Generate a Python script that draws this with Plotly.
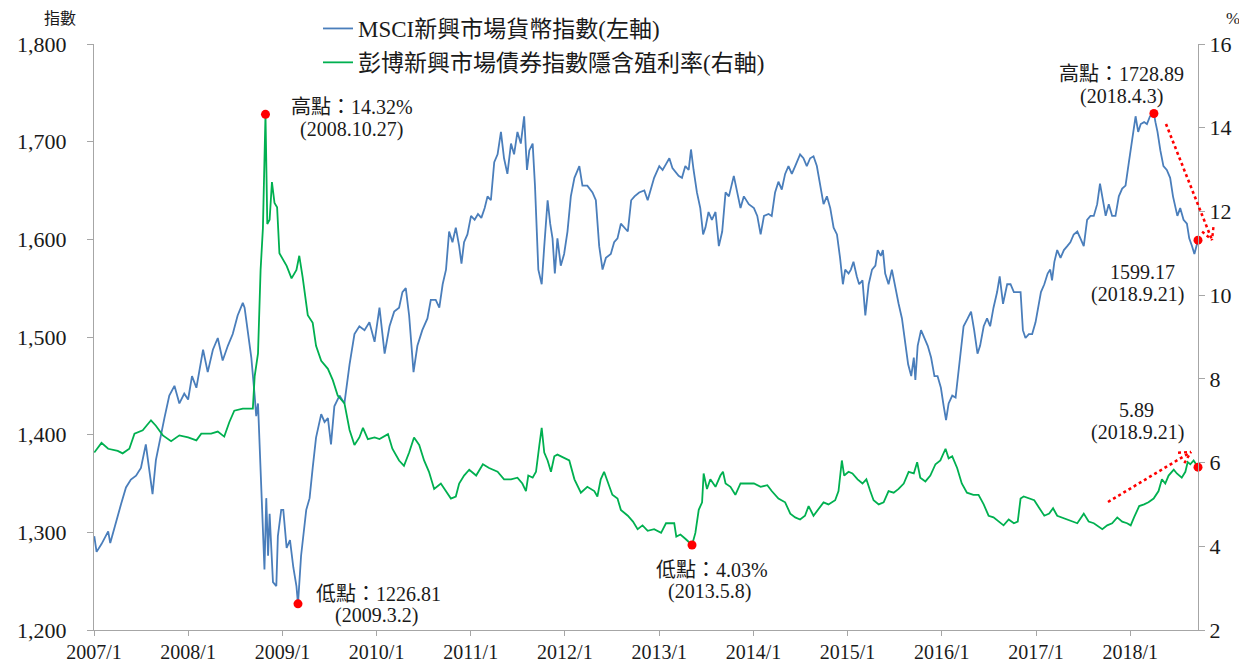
import math
import plotly.graph_objects as go

# ---------------- data ----------------
msci_dates = [
    "2007-01-02", "2007-01-11", "2007-01-30", "2007-02-25", "2007-03-05", "2007-03-27", "2007-04-16",
    "2007-05-05", "2007-05-24", "2007-06-13", "2007-07-02", "2007-07-21", "2007-08-16", "2007-08-29",
    "2007-09-18", "2007-10-01", "2007-10-20", "2007-11-09", "2007-11-28", "2007-12-17",
    "2008-01-01", "2008-01-16", "2008-02-02", "2008-02-28", "2008-03-17", "2008-04-06", "2008-04-25",
    "2008-05-14", "2008-06-03", "2008-06-22", "2008-07-11", "2008-07-31", "2008-08-07", "2008-08-20",
    "2008-09-02", "2008-09-15", "2008-09-21", "2008-09-28", "2008-10-04", "2008-10-10", "2008-10-17",
    "2008-10-23", "2008-10-30", "2008-11-06", "2008-11-12", "2008-11-25", "2008-12-08", "2008-12-14",
    "2008-12-27",
    "2009-01-04", "2009-01-17", "2009-01-30", "2009-02-12", "2009-02-24", "2009-03-02", "2009-03-14",
    "2009-04-03", "2009-04-16", "2009-04-28", "2009-05-11", "2009-05-31", "2009-06-13", "2009-06-26",
    "2009-07-08", "2009-07-21", "2009-08-10", "2009-08-29", "2009-09-18", "2009-10-07", "2009-10-26",
    "2009-11-15", "2009-12-04", "2009-12-24",
    "2010-01-12", "2010-02-01", "2010-02-20", "2010-03-10", "2010-03-29", "2010-04-11", "2010-04-24",
    "2010-05-07", "2010-05-24", "2010-06-08", "2010-06-27", "2010-07-17", "2010-07-30", "2010-08-18",
    "2010-09-01", "2010-09-14", "2010-09-27", "2010-10-09", "2010-10-22", "2010-11-04", "2010-11-17",
    "2010-11-26", "2010-12-06", "2010-12-19",
    "2011-01-02", "2011-01-16", "2011-01-29", "2011-02-11", "2011-02-24", "2011-03-07", "2011-03-20",
    "2011-04-02", "2011-04-15", "2011-04-28", "2011-05-10", "2011-05-23", "2011-06-06", "2011-06-18",
    "2011-07-01", "2011-07-14", "2011-07-27", "2011-08-07", "2011-08-16", "2011-08-29", "2011-09-07",
    "2011-09-20", "2011-10-03", "2011-10-13", "2011-10-26", "2011-11-05", "2011-11-14", "2011-11-23",
    "2011-12-03", "2011-12-16", "2011-12-29",
    "2012-01-11", "2012-01-24", "2012-02-07", "2012-02-26", "2012-03-09", "2012-03-28", "2012-04-17",
    "2012-04-30", "2012-05-13", "2012-05-26", "2012-06-08", "2012-06-27", "2012-07-10", "2012-07-23",
    "2012-08-05", "2012-08-18", "2012-09-01", "2012-09-14", "2012-09-27", "2012-10-15", "2012-11-04",
    "2012-11-17", "2012-11-30", "2012-12-12",
    "2013-01-01", "2013-01-14", "2013-01-27", "2013-02-09", "2013-02-21", "2013-03-04", "2013-03-17",
    "2013-03-30", "2013-04-12", "2013-04-25", "2013-05-04", "2013-05-14", "2013-05-27", "2013-06-09",
    "2013-06-20", "2013-06-29", "2013-07-11", "2013-07-24", "2013-08-07", "2013-08-20", "2013-09-02",
    "2013-09-15", "2013-09-28", "2013-10-17", "2013-10-30", "2013-11-12", "2013-11-25", "2013-12-14",
    "2014-01-03", "2014-01-16", "2014-01-29", "2014-02-11", "2014-03-01", "2014-03-13", "2014-03-26",
    "2014-04-08", "2014-04-21", "2014-05-04", "2014-05-17", "2014-05-30", "2014-06-12", "2014-07-01",
    "2014-07-14", "2014-07-27", "2014-08-09", "2014-08-22", "2014-09-04", "2014-09-17", "2014-09-30",
    "2014-10-13", "2014-10-26", "2014-11-08", "2014-11-21", "2014-12-03", "2014-12-14", "2014-12-23",
    "2015-01-05", "2015-01-14", "2015-01-24", "2015-02-06", "2015-02-15", "2015-02-28", "2015-03-11",
    "2015-03-24", "2015-04-06", "2015-04-19", "2015-04-28", "2015-05-10", "2015-05-18", "2015-05-27",
    "2015-06-09", "2015-06-22", "2015-07-05", "2015-07-18", "2015-07-31", "2015-08-13", "2015-08-24",
    "2015-09-05", "2015-09-15", "2015-09-21", "2015-09-30", "2015-10-13", "2015-10-26", "2015-11-08",
    "2015-11-21", "2015-12-04", "2015-12-16", "2015-12-29",
    "2016-01-09", "2016-01-18", "2016-01-28", "2016-02-11", "2016-02-24", "2016-03-04", "2016-03-13",
    "2016-03-26", "2016-04-11", "2016-04-24", "2016-05-06", "2016-05-19", "2016-05-29", "2016-06-12",
    "2016-06-25", "2016-07-07", "2016-07-20", "2016-08-03", "2016-08-13", "2016-08-26", "2016-09-11",
    "2016-09-24", "2016-10-07", "2016-10-19", "2016-11-02", "2016-11-11", "2016-11-21", "2016-12-04",
    "2016-12-17", "2016-12-30",
    "2017-01-20", "2017-02-02", "2017-02-15", "2017-02-25", "2017-03-04", "2017-03-13", "2017-03-24",
    "2017-04-06", "2017-04-19", "2017-05-02", "2017-05-14", "2017-05-27", "2017-06-10", "2017-06-22",
    "2017-07-05", "2017-07-18", "2017-07-31", "2017-08-13", "2017-08-26", "2017-09-06", "2017-09-15",
    "2017-09-28", "2017-10-10", "2017-10-23", "2017-11-05", "2017-11-18", "2017-12-01", "2017-12-14",
    "2017-12-27",
    "2018-01-09", "2018-01-22", "2018-02-01", "2018-02-11", "2018-02-24", "2018-03-07", "2018-03-19",
    "2018-04-03", "2018-04-09", "2018-04-17", "2018-04-28", "2018-05-10", "2018-05-23", "2018-06-05",
    "2018-06-16", "2018-06-25", "2018-07-03", "2018-07-14", "2018-07-27", "2018-08-09", "2018-08-18",
    "2018-08-29", "2018-09-07", "2018-09-21",
]
msci_values = [
    1296, 1280, 1288, 1301, 1289, 1311, 1329,
    1346, 1354, 1358, 1366, 1390, 1339, 1374,
    1401, 1417, 1440, 1450, 1432, 1442,
    1436, 1460, 1448, 1487, 1464, 1487, 1499,
    1476, 1491, 1503, 1522, 1535, 1530, 1507,
    1479, 1440, 1419, 1432, 1393, 1358, 1315,
    1262, 1335, 1276, 1319, 1249, 1245, 1296,
    1323,
    1323, 1284, 1292, 1264, 1245, 1226.81, 1276,
    1323, 1335, 1366, 1397, 1421, 1413, 1417,
    1390, 1429, 1440, 1432, 1472, 1503, 1511,
    1507, 1515, 1495,
    1530, 1483, 1511, 1526, 1530, 1546, 1550,
    1522, 1464, 1491, 1507, 1519, 1538, 1538,
    1530, 1554, 1569, 1608, 1597, 1612, 1593,
    1575, 1597, 1605,
    1624, 1620, 1626, 1622, 1632, 1644, 1640,
    1679, 1687, 1710, 1683, 1667, 1698, 1687,
    1710, 1698, 1726, 1671, 1691, 1698, 1655,
    1569, 1554, 1593, 1640, 1616, 1601, 1565,
    1601, 1573, 1585,
    1608, 1644, 1663, 1675, 1655, 1655, 1648,
    1640, 1593, 1569, 1581, 1585, 1597, 1601,
    1616, 1612, 1608, 1640, 1644, 1648, 1650,
    1640, 1651, 1663,
    1675, 1671, 1677, 1683, 1673, 1669, 1665,
    1663, 1675, 1671, 1692, 1671, 1648, 1632,
    1605, 1612, 1628, 1620, 1628, 1593, 1608,
    1648, 1644, 1665, 1648, 1632, 1644, 1636,
    1632, 1624, 1605, 1624, 1626, 1624, 1648,
    1659, 1651, 1667, 1675, 1667, 1675, 1687,
    1683, 1675, 1683, 1685, 1675, 1655, 1636,
    1644, 1632, 1612, 1605, 1581, 1554, 1569,
    1565, 1569, 1577, 1562, 1554, 1558, 1522,
    1554, 1569, 1573, 1589, 1583, 1589, 1565,
    1554, 1569, 1550, 1534, 1519, 1491, 1472,
    1460, 1479, 1456, 1491, 1507, 1499, 1491,
    1479, 1460, 1460, 1448,
    1429, 1415, 1432, 1440, 1438, 1460, 1483,
    1511, 1519, 1526, 1507, 1483, 1491, 1511,
    1519, 1511, 1530, 1546, 1562, 1534, 1554,
    1554, 1546, 1546, 1546, 1507, 1499, 1503,
    1503, 1515,
    1546, 1554, 1565, 1569, 1558, 1577, 1589,
    1581, 1589, 1593, 1597, 1605, 1608, 1601,
    1593, 1620, 1624, 1624, 1636, 1657, 1644,
    1624, 1636, 1624, 1624, 1644, 1652, 1655,
    1679,
    1702, 1726, 1710, 1718, 1720, 1718, 1726,
    1728.89, 1720, 1710, 1691, 1675, 1671, 1663,
    1644, 1632, 1624, 1632, 1620, 1616, 1601,
    1593, 1585, 1599.17,
]

yield_dates = [
    "2007-01-02", "2007-01-30", "2007-02-25", "2007-04-03", "2007-04-22", "2007-05-18", "2007-06-07",
    "2007-07-09", "2007-08-10", "2007-08-29", "2007-09-25", "2007-10-27", "2007-11-28",
    "2008-01-01", "2008-02-02", "2008-02-21", "2008-03-30", "2008-04-25", "2008-05-20", "2008-06-09",
    "2008-06-28", "2008-07-31", "2008-09-08", "2008-09-15", "2008-09-28", "2008-10-08", "2008-10-17",
    "2008-10-27", "2008-11-03", "2008-11-12", "2008-11-21", "2008-12-01", "2008-12-11", "2008-12-20",
    "2009-01-17", "2009-02-05", "2009-02-24", "2009-03-07", "2009-03-20", "2009-04-09", "2009-04-28",
    "2009-05-11", "2009-05-31", "2009-06-26", "2009-07-15", "2009-08-03", "2009-08-29", "2009-09-18",
    "2009-10-07", "2009-10-26", "2009-11-09", "2009-11-28", "2009-12-24",
    "2010-01-12", "2010-02-14", "2010-03-03", "2010-03-29", "2010-04-17", "2010-05-07", "2010-05-26",
    "2010-06-15", "2010-07-04", "2010-07-23", "2010-08-12", "2010-09-07", "2010-09-27", "2010-10-16",
    "2010-11-04", "2010-11-17", "2010-12-06", "2010-12-26",
    "2011-01-22", "2011-02-17", "2011-03-13", "2011-04-15", "2011-05-10", "2011-06-06", "2011-07-01",
    "2011-07-20", "2011-08-03", "2011-08-12", "2011-08-29", "2011-09-11", "2011-09-24", "2011-10-03",
    "2011-10-13", "2011-10-26", "2011-11-08", "2011-11-21", "2011-12-03", "2011-12-29",
    "2012-01-18", "2012-02-07", "2012-03-03", "2012-03-28", "2012-04-24", "2012-05-06", "2012-05-19",
    "2012-06-01", "2012-06-17", "2012-07-03", "2012-07-23", "2012-08-05", "2012-09-01", "2012-09-21",
    "2012-10-09", "2012-10-28", "2012-11-17", "2012-12-12",
    "2013-01-08", "2013-01-27", "2013-02-15", "2013-02-28", "2013-03-08", "2013-03-24", "2013-04-12",
    "2013-05-08", "2013-05-21", "2013-06-03", "2013-06-16", "2013-06-22", "2013-07-05", "2013-07-18",
    "2013-08-07", "2013-08-26", "2013-09-05", "2013-09-15", "2013-10-04", "2013-10-23", "2013-11-12",
    "2013-12-08",
    "2014-01-03", "2014-01-29", "2014-02-24", "2014-03-13", "2014-04-08", "2014-05-04", "2014-05-24",
    "2014-06-12", "2014-07-01", "2014-07-20", "2014-08-03", "2014-08-22", "2014-09-11", "2014-09-30",
    "2014-10-19", "2014-11-14", "2014-11-27", "2014-12-10", "2014-12-19",
    "2015-01-05", "2015-01-20", "2015-02-09", "2015-02-28", "2015-03-15", "2015-03-30", "2015-04-12",
    "2015-05-02", "2015-05-21", "2015-06-09", "2015-06-29", "2015-07-18", "2015-08-07", "2015-08-26",
    "2015-09-15", "2015-09-28", "2015-10-10", "2015-10-30", "2015-11-18", "2015-12-08", "2015-12-27",
    "2016-01-16", "2016-01-28", "2016-02-11", "2016-03-01", "2016-03-19", "2016-04-08", "2016-05-03",
    "2016-05-23", "2016-06-12", "2016-07-01", "2016-07-20", "2016-08-09", "2016-08-28", "2016-09-17",
    "2016-10-07", "2016-10-22", "2016-11-02", "2016-11-14", "2016-12-04", "2016-12-25",
    "2017-01-14", "2017-02-02", "2017-02-21", "2017-03-08", "2017-03-24", "2017-04-12", "2017-05-02",
    "2017-05-21", "2017-06-10", "2017-07-05", "2017-07-24", "2017-08-13", "2017-09-02", "2017-09-15",
    "2017-10-04", "2017-10-23", "2017-11-12", "2017-12-01", "2017-12-20",
    "2018-01-03", "2018-01-16", "2018-02-05", "2018-02-24", "2018-03-13", "2018-04-02", "2018-04-21",
    "2018-05-04", "2018-05-17", "2018-05-30", "2018-06-19", "2018-07-01", "2018-07-20", "2018-08-03",
    "2018-08-12", "2018-08-22", "2018-09-04", "2018-09-21",
]
yield_values = [
    6.24, 6.47, 6.33, 6.28, 6.22, 6.33, 6.69,
    6.77, 7.01, 6.88, 6.65, 6.51, 6.65,
    6.60, 6.53, 6.69, 6.69, 6.74, 6.62, 6.97,
    7.24, 7.29, 7.29, 8.06, 8.61, 10.6, 11.6,
    14.32, 11.7, 11.8, 12.7, 12.2, 12.1, 11.0,
    10.7, 10.4, 10.6, 10.94, 10.43, 9.52, 9.34,
    8.79, 8.43, 8.24, 7.97, 7.6, 7.42, 6.78,
    6.42, 6.6, 6.83, 6.56, 6.6,
    6.56, 6.68, 6.33, 6.05, 5.92, 6.24, 6.6,
    6.42, 6.05, 5.78, 5.37, 5.5, 5.32, 5.14,
    5.19, 5.5, 5.69, 5.83,
    5.69, 5.96, 5.87, 5.78, 5.6, 5.6, 5.64,
    5.5, 5.32, 5.69, 5.64, 5.78, 6.42, 6.83,
    6.24, 6.05, 5.78, 6.15, 6.19, 6.1,
    6.05, 5.6, 5.28, 5.42, 5.32, 5.19, 5.6,
    5.78, 5.5, 5.23, 5.14, 4.87, 4.73, 4.59,
    4.41, 4.5, 4.37, 4.41,
    4.32, 4.55, 4.55, 4.55, 4.23, 4.28, 4.18,
    4.03, 4.32, 4.87, 5.05, 5.74, 5.37, 5.6,
    5.42, 5.69, 5.78, 5.5, 5.42, 5.23, 5.5,
    5.5,
    5.5, 5.42, 5.46, 5.32, 5.14, 5.05, 4.78,
    4.69, 4.64, 4.73, 4.96, 4.73, 4.91, 5.05,
    5.0, 5.1, 5.32, 6.05, 5.69,
    5.78, 5.74, 5.6, 5.5, 5.6, 5.32, 5.1,
    5.0, 5.05, 5.32, 5.28, 5.37, 5.5, 5.78,
    5.74, 6.01, 5.64, 5.55, 5.69, 5.96, 6.05,
    6.33, 6.1, 6.15, 5.87, 5.5, 5.28, 5.23,
    5.23, 5.0, 4.73, 4.69, 4.59, 4.5, 4.64,
    4.55, 4.59, 5.14, 5.19, 5.14, 5.1,
    4.91, 4.73, 4.78, 4.91, 4.73, 4.69, 4.64,
    4.59, 4.55, 4.78, 4.59, 4.55, 4.46, 4.41,
    4.5, 4.55, 4.69, 4.59, 4.55,
    4.5, 4.69, 4.96, 5.0, 5.05, 5.14, 5.32,
    5.6, 5.5, 5.69, 5.83, 5.74, 5.64, 5.78,
    6.01, 5.96, 6.05, 5.89,
]

# highlighted points
msci_mark_dates = ["2009-03-02", "2018-04-03", "2018-09-21"]
msci_mark_values = [1226.81, 1728.89, 1599.17]
yield_mark_dates = ["2008-10-27", "2013-05-08", "2018-09-21"]
yield_mark_values = [14.32, 4.03, 5.89]

x_tick_dates = ["2007-01-01", "2008-01-01", "2009-01-01", "2010-01-01", "2011-01-01", "2012-01-01",
                "2013-01-01", "2014-01-01", "2015-01-01", "2016-01-01", "2017-01-01", "2018-01-01"]
x_tick_labels = ["2007/1", "2008/1", "2009/1", "2010/1", "2011/1", "2012/1",
                 "2013/1", "2014/1", "2015/1", "2016/1", "2017/1", "2018/1"]
left_ticks = [1200, 1300, 1400, 1500, 1600, 1700, 1800]
right_ticks = [2, 4, 6, 8, 10, 12, 14, 16]

name_msci = "MSCI新興市場貨幣指數(左軸)"
name_yield = "彭博新興市場債券指數隱含殖利率(右軸)"

# ---------------- layout geometry ----------------
# reference plot area (window pixels): x 94..1198, y 44..630
# the page body adds an 8px offset, so the figure itself is 8px smaller
OFF = 8
WIN_W, WIN_H = 1247, 663
L_REF, R_REF, T_REF, B_REF = 94, 1198, 44, 630
W, H = WIN_W - OFF, WIN_H - OFF
L, T = L_REF - OFF, T_REF - OFF
R, B = W - (R_REF - OFF), H - (B_REF - OFF)
PW, PH = R_REF - L_REF, B_REF - T_REF

def px(x, y):
    """reference window pixel -> paper coordinates"""
    return (x - L_REF) / PW, (B_REF - y) / PH

FONT = "Liberation Serif, Times New Roman, Noto Sans CJK TC, serif"
BLUE = "#4a7ebb"
GREEN = "#00b050"
RED = "#ff0000"
AXIS = "#a6a6a6"
TXT = "#1a1a1a"

fig = go.Figure()
fig.add_trace(go.Scatter(x=msci_dates, y=msci_values, mode="lines", name=name_msci,
                         line=dict(color=BLUE, width=1.8), legendgroup="a", yaxis="y"))
fig.add_trace(go.Scatter(x=yield_dates, y=yield_values, mode="lines", name=name_yield,
                         line=dict(color=GREEN, width=1.8), legendgroup="b", yaxis="y2"))
fig.add_trace(go.Scatter(x=msci_mark_dates, y=msci_mark_values, mode="markers", showlegend=False,
                         marker=dict(color=RED, size=9), cliponaxis=False, yaxis="y"))
fig.add_trace(go.Scatter(x=yield_mark_dates, y=yield_mark_values, mode="markers", showlegend=False,
                         marker=dict(color=RED, size=9), cliponaxis=False, yaxis="y2"))

annotations = []
def add_text(text, x, y, size=20, xanchor="center"):
    ax_, ay_ = px(x, y)
    annotations.append(dict(text=text, x=ax_, y=ay_, xref="paper", yref="paper", showarrow=False,
                            xanchor=xanchor, yanchor="middle",
                            font=dict(family=FONT, size=size, color=TXT)))

add_text("高點：14.32%", 352, 107)
add_text("(2008.10.27)", 351, 129)
add_text("低點：1226.81", 378, 594)
add_text("(2009.3.2)", 377, 615)
add_text("低點：4.03%", 712, 570)
add_text("(2013.5.8)", 709, 591)
add_text("高點：1728.89", 1121, 74)
add_text("(2018.4.3)", 1121, 96)
add_text("1599.17", 1142, 272)
add_text("(2018.9.21)", 1137, 294)
add_text("5.89", 1136, 410)
add_text("(2018.9.21)", 1137, 432)
add_text("指數", 60, 18, size=16)
add_text("%", 1233, 18, size=17)

shapes = []
def arrow(x0, y0, x1, y1, head=13, ang=28):
    a0, b0 = px(x0, y0)
    a1, b1 = px(x1, y1)
    shapes.append(dict(type="line", xref="paper", yref="paper", x0=a0, y0=b0, x1=a1, y1=b1,
                       line=dict(color=RED, width=2.6, dash="dot")))
    dx, dy = x0 - x1, y0 - y1
    n = math.hypot(dx, dy)
    dx, dy = dx / n, dy / n
    for s in (-1, 1):
        t = math.radians(ang * s)
        hx = x1 + head * (dx * math.cos(t) - dy * math.sin(t))
        hy = y1 + head * (dx * math.sin(t) + dy * math.cos(t))
        c0, d0 = px(hx, hy)
        shapes.append(dict(type="line", xref="paper", yref="paper", x0=c0, y0=d0, x1=a1, y1=b1,
                           line=dict(color=RED, width=2.4, dash="dot")))

arrow(1166, 124, 1212, 240)
arrow(1108, 502, 1191, 452)

lx, ly = px(318, 7)

fig.update_layout(
    width=W, height=H,
    margin=dict(l=L, r=R, t=T, b=B, autoexpand=False),
    paper_bgcolor="white", plot_bgcolor="white",
    font=dict(family=FONT, size=20, color=TXT),
    showlegend=True,
    legend=dict(x=lx, y=ly, xanchor="left", yanchor="top",
                xref="paper", yref="paper", bgcolor="rgba(0,0,0,0)",
                font=dict(family=FONT, size=23, color=TXT),
                traceorder="grouped", tracegroupgap=1, itemwidth=30),
    xaxis=dict(type="date", range=["2007-01-01", "2018-09-21"], tickvals=x_tick_dates,
               ticktext=x_tick_labels, showgrid=False, zeroline=False, showline=True,
               linecolor=AXIS, linewidth=1.3, ticks="outside", ticklen=5, tickcolor=AXIS,
               ticklabelstandoff=-1,
               tickfont=dict(family=FONT, size=20, color=TXT), automargin=False),
    yaxis=dict(range=[1200, 1800], tickvals=left_ticks, tickformat=",d", showgrid=False,
               zeroline=False, showline=True, linecolor=AXIS, linewidth=1.3, ticks="outside",
               ticklen=6, tickcolor=AXIS, ticklabelstandoff=16,
               tickfont=dict(family=FONT, size=22, color=TXT), automargin=False),
    yaxis2=dict(range=[2, 16], tickvals=right_ticks, overlaying="y", side="right",
                showgrid=False, zeroline=False, showline=True, linecolor=AXIS, linewidth=1.3,
                ticks="outside", ticklen=6, tickcolor=AXIS,
                tickfont=dict(family=FONT, size=22, color=TXT), automargin=False),
    annotations=annotations,
    shapes=shapes,
)

fig.write_html("out.html")
